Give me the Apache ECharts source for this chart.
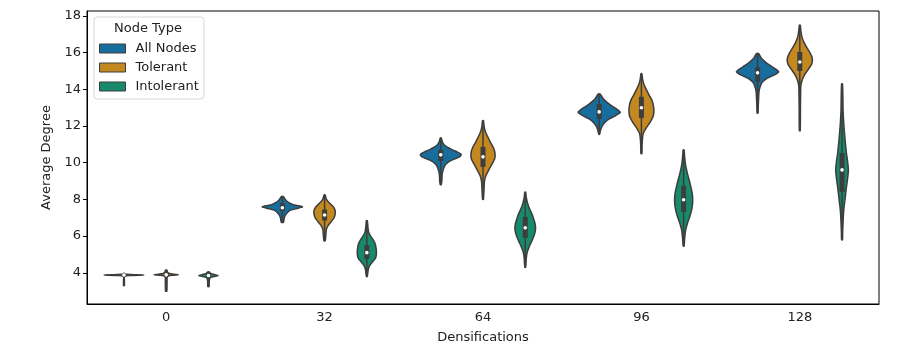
<!DOCTYPE html>
<html>
<head>
<meta charset="utf-8">
<script src="https://cdn.jsdelivr.net/npm/echarts@6/dist/echarts.min.js"></script>
<style>
  html, body { margin: 0; padding: 0; background: #fff; }
  #chart { width: 900px; height: 346px; }
</style>
</head>
<body>
<div id="chart"></div>
<script>
// categories on the x axis
const densifications = ["0", "32", "64", "96", "128"];
const nodeTypes = ["All Nodes", "Tolerant", "Intolerant"];

// violin profiles: [value, relative density] per category
const allNodesProfiles = [
  [[3.3, 0.02], [3.6, 0.02], [3.8, 0.03], [3.85, 0.3], [3.88, 0.95], [3.91, 0.3], [3.94, 0.03], [3.97, 0.02]],
  [[6.75, 0.05], [7.0, 0.09], [7.2, 0.18], [7.4, 0.36], [7.5, 0.68], [7.6, 0.95], [7.7, 0.55], [7.85, 0.27], [8.0, 0.14], [8.15, 0.05]],
  [[8.8, 0.02], [9.0, 0.05], [9.4, 0.07], [9.7, 0.14], [9.9, 0.23], [10.1, 0.45], [10.3, 0.86], [10.45, 0.97], [10.6, 0.75], [10.7, 0.55], [10.9, 0.23], [11.1, 0.09], [11.35, 0.02]],
  [[11.55, 0.02], [11.8, 0.07], [12.0, 0.14], [12.2, 0.27], [12.4, 0.5], [12.6, 0.82], [12.75, 1.0], [12.9, 0.86], [13.1, 0.59], [13.3, 0.36], [13.5, 0.18], [13.75, 0.05]],
  [[12.7, 0.02], [13.0, 0.03], [13.5, 0.05], [13.9, 0.07], [14.2, 0.14], [14.4, 0.23], [14.6, 0.45], [14.8, 0.82], [14.95, 1.0], [15.1, 0.86], [15.3, 0.59], [15.5, 0.36], [15.7, 0.18], [15.95, 0.05]]
];
const tolerantProfiles = [
  [[3.0, 0.03], [3.5, 0.04], [3.8, 0.06], [3.87, 0.3], [3.9, 0.57], [3.93, 0.3], [4.0, 0.08], [4.15, 0.03]],
  [[5.75, 0.03], [6.2, 0.07], [6.4, 0.09], [6.6, 0.18], [6.8, 0.32], [7.0, 0.45], [7.2, 0.5], [7.4, 0.5], [7.6, 0.41], [7.8, 0.23], [8.0, 0.09], [8.25, 0.02]],
  [[8.0, 0.02], [8.6, 0.05], [9.0, 0.07], [9.3, 0.14], [9.6, 0.27], [9.9, 0.41], [10.2, 0.55], [10.5, 0.57], [10.8, 0.5], [11.1, 0.36], [11.4, 0.23], [11.7, 0.11], [12.0, 0.05], [12.3, 0.02]],
  [[10.5, 0.02], [10.9, 0.03], [11.3, 0.05], [11.6, 0.09], [11.9, 0.23], [12.2, 0.41], [12.5, 0.55], [12.8, 0.59], [13.1, 0.57], [13.4, 0.5], [13.7, 0.36], [14.0, 0.23], [14.3, 0.11], [14.6, 0.05], [14.85, 0.02]],
  [[11.75, 0.02], [13.0, 0.03], [13.8, 0.04], [14.2, 0.05], [14.5, 0.11], [14.8, 0.23], [15.1, 0.41], [15.4, 0.57], [15.7, 0.59], [16.0, 0.48], [16.3, 0.32], [16.6, 0.18], [16.9, 0.09], [17.2, 0.05], [17.5, 0.02]]
];
const intolerantProfiles = [
  [[3.25, 0.03], [3.6, 0.04], [3.75, 0.1], [3.82, 0.35], [3.85, 0.45], [3.9, 0.3], [3.97, 0.1], [4.05, 0.03]],
  [[3.8, 0.02], [4.2, 0.07], [4.4, 0.14], [4.6, 0.27], [4.8, 0.41], [5.0, 0.45], [5.2, 0.45], [5.4, 0.43], [5.6, 0.39], [5.8, 0.3], [6.0, 0.18], [6.2, 0.09], [6.5, 0.05], [6.85, 0.02]],
  [[4.3, 0.02], [4.8, 0.05], [5.1, 0.09], [5.4, 0.18], [5.7, 0.3], [6.0, 0.41], [6.3, 0.48], [6.6, 0.48], [6.9, 0.41], [7.2, 0.32], [7.5, 0.2], [7.8, 0.11], [8.1, 0.05], [8.4, 0.02]],
  [[5.45, 0.02], [5.9, 0.05], [6.3, 0.09], [6.7, 0.18], [7.1, 0.3], [7.5, 0.39], [7.9, 0.43], [8.3, 0.41], [8.7, 0.34], [9.1, 0.25], [9.5, 0.16], [9.9, 0.09], [10.3, 0.05], [10.7, 0.02]],
  [[5.8, 0.02], [6.2, 0.03], [6.8, 0.05], [7.4, 0.08], [8.0, 0.14], [8.6, 0.2], [9.2, 0.27], [9.6, 0.3], [10.0, 0.27], [10.6, 0.2], [11.3, 0.14], [12.0, 0.09], [12.8, 0.05], [13.5, 0.04], [14.3, 0.02]]
];

// inner box: first quartile, median, third quartile
const allNodesQ1 = [3.86, 7.35, 10.1, 12.4, 14.4];
const allNodesMedian = [3.88, 7.55, 10.43, 12.77, 14.9];
const allNodesQ3 = [3.9, 7.8, 10.7, 13.2, 15.2];
const tolerantQ1 = [3.82, 6.85, 9.77, 12.44, 15.0];
const tolerantMedian = [3.89, 7.15, 10.32, 13.0, 15.49];
const tolerantQ3 = [4.02, 7.45, 10.86, 13.59, 16.04];
const intolerantQ1 = [3.78, 4.75, 5.9, 7.32, 8.41];
const intolerantMedian = [3.85, 5.1, 6.45, 7.98, 9.61];
const intolerantQ3 = [3.95, 5.5, 7.05, 8.74, 10.53];

const yTicks = [4, 6, 8, 10, 12, 14, 16, 18];

const colors = ["#176d9c", "#c38820", "#168a6a"];
const LINE = "#3d3d3d";
const FONT = "DejaVu Sans";

function violinSeries(name, hueIndex, profiles, q1, med, q3) {
  return {
    name: name,
    type: "custom",
    itemStyle: { color: colors[hueIndex] },
    data: densifications.map((_, i) => [i]),
    renderItem: function (params, api) {
      const i = api.value(0);
      const band = api.size([1, 0])[0];
      const slot = band * 0.8 / 3;
      const cx = api.coord([i, 0])[0] + (hueIndex - 1) * slot;
      const half = slot / 2;
      const prof = profiles[i];
      const right = prof.map(p => [cx + p[1] * half, api.coord([i, p[0]])[1]]);
      const left = prof.slice().reverse().map(p => [cx - p[1] * half, api.coord([i, p[0]])[1]]);
      const yLo = api.coord([i, prof[0][0]])[1];
      const yHi = api.coord([i, prof[prof.length - 1][0]])[1];
      const yQ1 = api.coord([i, q1[i]])[1];
      const yQ3 = api.coord([i, q3[i]])[1];
      const yMed = api.coord([i, med[i]])[1];
      return {
        type: "group",
        children: [
          {
            type: "polygon",
            shape: { points: right.concat(left), smooth: 0.25 },
            style: { fill: colors[hueIndex], stroke: LINE, lineWidth: 1.5 }
          },
          {
            type: "line",
            shape: { x1: cx, y1: yLo, x2: cx, y2: yHi },
            style: { stroke: LINE, lineWidth: 1.5 }
          },
          {
            type: "rect",
            shape: { x: cx - 2.5, y: yQ3, width: 5, height: Math.max(yQ1 - yQ3, 1) },
            style: { fill: LINE }
          },
          {
            type: "circle",
            shape: { cx: cx, cy: yMed, r: 1.8 },
            style: { fill: "#fff" }
          }
        ]
      };
    }
  };
}

const chart = echarts.init(document.getElementById("chart"), null, { renderer: "canvas" });

chart.setOption({
  animation: false,
  textStyle: { fontFamily: FONT },
  grid: {
    left: 87, right: 21, top: 11, bottom: 42,
    outerBoundsMode: "none", containLabel: false,
    show: true, borderColor: "#000", borderWidth: 1
  },
  legend: {
    data: nodeTypes,
    orient: "vertical",
    left: 94,
    top: 17,
    padding: [25, 5, 6, 5],
    itemGap: 6,
    itemWidth: 26,
    itemHeight: 9,
    icon: "rect",
    backgroundColor: "rgba(255,255,255,0.8)",
    borderColor: "#d6d6d6",
    borderWidth: 1,
    borderRadius: 3,
    itemStyle: { borderColor: LINE, borderWidth: 1 },
    textStyle: { fontFamily: FONT, fontSize: 13, color: "#222", padding: [0, 0, 0, 5] }
  },
  graphic: [{
    type: "text",
    left: 114,
    top: 22,
    z: 100,
    style: { text: "Node Type", font: "13px " + FONT, fill: "#222" }
  }],
  xAxis: {
    type: "category",
    data: densifications,
    name: "Densifications",
    nameLocation: "middle",
    nameGap: 27,
    nameTextStyle: { fontFamily: FONT, fontSize: 13, color: "#222" },
    axisLine: { lineStyle: { color: "#000", width: 1 } },
    axisTick: { alignWithLabel: true, length: 4, lineStyle: { color: "#000" } },
    axisLabel: { fontFamily: FONT, fontSize: 13, color: "#222", margin: 7 },
    splitLine: { show: false }
  },
  yAxis: {
    type: "value",
    min: 2.3,
    max: 18.27,
    name: "Average Degree",
    nameLocation: "middle",
    nameGap: 29,
    nameTextStyle: { fontFamily: FONT, fontSize: 13, color: "#222" },
    axisLine: { show: true, lineStyle: { color: "#000", width: 1 } },
    axisTick: { show: true, length: 4, customValues: yTicks, lineStyle: { color: "#000" } },
    axisLabel: { fontFamily: FONT, fontSize: 13, color: "#222", margin: 6, customValues: yTicks },
    splitLine: { show: false }
  },
  series: [
    violinSeries(nodeTypes[0], 0, allNodesProfiles, allNodesQ1, allNodesMedian, allNodesQ3),
    violinSeries(nodeTypes[1], 1, tolerantProfiles, tolerantQ1, tolerantMedian, tolerantQ3),
    violinSeries(nodeTypes[2], 2, intolerantProfiles, intolerantQ1, intolerantMedian, intolerantQ3)
  ]
});
</script>
</body>
</html>
